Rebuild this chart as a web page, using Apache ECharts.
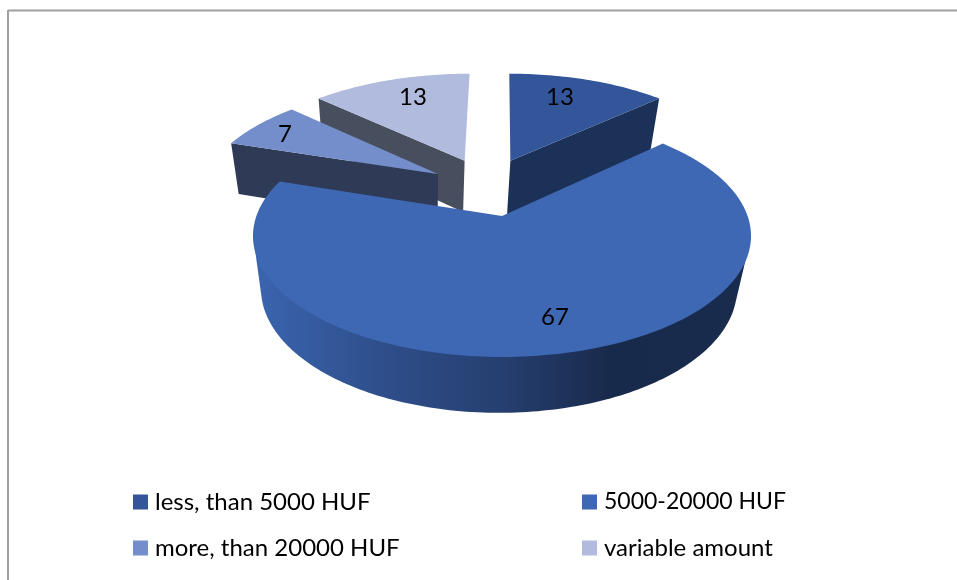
<!DOCTYPE html>
<html>
<head>
<meta charset="utf-8">
<style>
  html, body { margin: 0; padding: 0; background: #fff; }
  #chart { width: 957px; height: 580px; }
</style>
<script src="https://cdn.jsdelivr.net/npm/echarts@6/dist/echarts.min.js"></script>
</head>
<body>
<div id="chart"></div>
<script>
const categories = ['less, than 5000 HUF', '5000-20000 HUF', 'more, than 20000 HUF', 'variable amount']
const values = [13, 67, 7, 13]

const topColors = ['#33569A', '#3E67B4', '#748DCB', '#B0BBDD']
const wallColors = ['#1C3158', null, '#2F3A56', '#474F5E']
// how far each slice is pulled out of the pie, in units of the radius
const explode = [[0.037, -0.51], [0, 0], [-0.277, -0.379], [-0.165, -0.51]]
// label place inside each slice, in units of the radius from its tip
const labelAt = [[0.246, -0.703], [0.189, 0.751], [-0.721, -0.408], [-0.27, -0.703]]
// extra drop of the cut face, slice 1 has to run in behind the big slice
const wallDrop = [3, 0, 0, 0]
const zOrder = [3, 4, 2, 1]

// perspective of the 3d pie, the lower rim sits a little to the left
const view = { cx: 502, cy: 216, a: 245.6, b: 117.7, p: 0.165, h: 55.5, q: 0.045, shift: -3 }

function project (u, v, bottom) {
  const w = 1 - view.p * v + (bottom ? view.q : 0)
  return [
    view.cx + view.a * u / w + (bottom ? view.shift : 0),
    view.cy + (view.b * v + (bottom ? view.h : 0)) / w
  ]
}

// start and end angle of a slice, clockwise from 12 o'clock
function sliceAngles (index) {
  const total = values.reduce((s, x) => s + x, 0)
  let before = 0
  for (let i = 0; i < index; i++) before += values[i]
  return [before / total * Math.PI * 2, (before + values[index]) / total * Math.PI * 2]
}

function arc (index, from, to, bottom) {
  const off = explode[index]
  const pts = []
  const n = Math.max(2, Math.ceil((to - from) / 0.02))
  for (let i = 0; i <= n; i++) {
    const t = from + (to - from) * i / n
    pts.push(project(off[0] + Math.sin(t), off[1] - Math.cos(t), bottom))
  }
  return pts
}

// outline of the outer wall: widest points of the top rim, tangents down to the lower rim
function wallOutline (index, tip) {
  const from = 60 * Math.PI / 180
  const to = 285 * Math.PI / 180
  const upper = arc(index, from, to, false)
  const lower = arc(index, from, to, true)
  let right = upper[0]
  let left = upper[0]
  upper.forEach(p => {
    if (p[0] > right[0]) right = p
    if (p[0] < left[0]) left = p
  })
  let jr = -1
  let jl = -1
  let bestR = -Infinity
  let bestL = Infinity
  lower.forEach((p, j) => {
    if (p[1] > right[1]) {
      const s = (p[0] - right[0]) / (p[1] - right[1])
      if (s > bestR) { bestR = s; jr = j }
    }
    if (p[1] > left[1]) {
      const s = (p[0] - left[0]) / (p[1] - left[1])
      if (s < bestL) { bestL = s; jl = j }
    }
  })
  return [right].concat(lower.slice(jr, jl + 1), [left, tip])
}

function renderSlice (index) {
  const [start, end] = sliceAngles(index)
  const off = explode[index]
  const tipTop = project(off[0], off[1], false)
  const tipBottom = project(off[0], off[1], true)
  const children = []

  if (index === 1) {
    children.push({
      type: 'polygon',
      shape: { points: wallOutline(index, tipTop) },
      style: {
        fill: new echarts.graphic.LinearGradient(253, 0, 751, 0, [
          { offset: 0, color: '#3B65B0' },
          { offset: 0.25, color: '#2F4F8C' },
          { offset: 0.5, color: '#263F70' },
          { offset: 0.72, color: '#182A4B' },
          { offset: 1, color: '#1A2C4E' }
        ], true)
      }
    })
  } else {
    // cut face that looks at us
    const a = index === 0 ? end : start
    const top = project(off[0] + Math.sin(a), off[1] - Math.cos(a), false)
    const low = project(off[0] + Math.sin(a), off[1] - Math.cos(a), true)
    const drop = wallDrop[index]
    children.push({
      type: 'polygon',
      shape: { points: [tipTop, top, [low[0], low[1] + drop], [tipBottom[0], tipBottom[1] + drop]] },
      style: { fill: wallColors[index] }
    })
  }

  children.push({
    type: 'polygon',
    z2: 5,
    shape: { points: [tipTop].concat(arc(index, start, end, false)) },
    style: { fill: topColors[index] }
  })

  const spot = project(off[0] + labelAt[index][0], off[1] + labelAt[index][1], false)
  children.push({
    type: 'text',
    z2: 10,
    style: {
      x: spot[0],
      y: spot[1],
      text: String(values[index]),
      fill: '#000',
      font: '24px Lato',
      align: 'center',
      verticalAlign: 'middle'
    }
  })
  return { type: 'group', children: children }
}

const chart = echarts.init(document.getElementById('chart'))

const legendBase = {
  orient: 'vertical',
  top: 488,
  icon: 'rect',
  itemWidth: 15,
  itemHeight: 15,
  itemGap: 18,
  selectedMode: false,
  padding: 0,
  textStyle: { color: '#000', fontFamily: 'Lato', fontSize: 24, lineHeight: 28, padding: [0, 0, 0, 2] }
}

chart.setOption({
  backgroundColor: '#fff',
  animation: false,
  tooltip: { show: false },
  graphic: [
    { type: 'line', shape: { x1: 8, y1: 10.5, x2: 957, y2: 10.5 }, style: { stroke: '#A0A0A0', lineWidth: 2 } },
    { type: 'line', shape: { x1: 8, y1: 10, x2: 8, y2: 580 }, style: { stroke: '#A0A0A0', lineWidth: 2 } }
  ],
  legend: [
    Object.assign({}, legendBase, { left: 133, data: [categories[0], categories[2]] }),
    Object.assign({}, legendBase, {
      left: 582,
      data: [{ name: categories[1], textStyle: { fontSize: 23, lineHeight: 28 } }, categories[3]]
    })
  ],
  series: categories.map((name, i) => ({
    type: 'custom',
    name: name,
    coordinateSystem: 'none',
    z: zOrder[i],
    silent: true,
    itemStyle: { color: topColors[i] },
    data: [values[i]],
    renderItem: () => renderSlice(i)
  }))
})
</script>
</body>
</html>
